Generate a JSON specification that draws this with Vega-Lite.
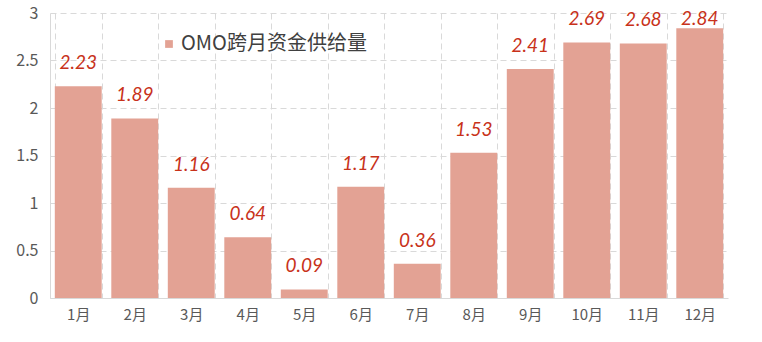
{
  "$schema": "https://vega.github.io/schema/vega-lite/v6.json",
  "autosize": {"type": "none"},
  "width": 678,
  "height": 285,
  "padding": {"left": 50, "top": 13, "right": 34, "bottom": 44},
  "background": "white",
  "data": {"values": [
    {"month": "1月", "value": 2.23, "series": "OMO跨月资金供给量"},
    {"month": "2月", "value": 1.89, "series": "OMO跨月资金供给量"},
    {"month": "3月", "value": 1.16, "series": "OMO跨月资金供给量"},
    {"month": "4月", "value": 0.64, "series": "OMO跨月资金供给量"},
    {"month": "5月", "value": 0.09, "series": "OMO跨月资金供给量"},
    {"month": "6月", "value": 1.17, "series": "OMO跨月资金供给量"},
    {"month": "7月", "value": 0.36, "series": "OMO跨月资金供给量"},
    {"month": "8月", "value": 1.53, "series": "OMO跨月资金供给量"},
    {"month": "9月", "value": 2.41, "series": "OMO跨月资金供给量"},
    {"month": "10月", "value": 2.69, "series": "OMO跨月资金供给量"},
    {"month": "11月", "value": 2.68, "series": "OMO跨月资金供给量"},
    {"month": "12月", "value": 2.84, "series": "OMO跨月资金供给量"}
  ]},
  "encoding": {
    "x": {
      "field": "month", "type": "nominal", "sort": null,
      "scale": {"paddingInner": 0.17, "paddingOuter": 0.085},
      "axis": {
        "title": null, "labelAngle": 0, "grid": true, "tickBand": "extent",
        "gridColor": "#D9D9D9", "gridDash": [6, 4], "ticks": false,
        "domainColor": "#D9D9D9", "labelFont": "Noto Sans CJK SC",
        "labelFontSize": 15, "labelColor": "#595959", "labelPadding": 9
      }
    }
  },
  "layer": [
    {
      "mark": {"type": "bar", "color": "#E3A294"},
      "encoding": {
        "y": {
          "field": "value", "type": "quantitative",
          "scale": {"domain": [0, 3], "nice": false},
          "axis": {
            "title": null, "values": [0, 0.5, 1, 1.5, 2, 2.5, 3], "format": "~g",
            "gridColor": "#D9D9D9", "gridDash": [6, 4], "ticks": false,
            "domain": true, "domainColor": "#D9D9D9",
            "labelFont": "Noto Sans CJK SC", "labelFontSize": 16,
            "labelColor": "#595959", "labelPadding": 12
          }
        },
        "color": {
          "field": "series", "type": "nominal",
          "scale": {"range": ["#E3A294"]},
          "legend": {
            "title": null, "orient": "none", "legendX": 109, "legendY": 21,
            "symbolType": "square", "symbolSize": 60, "labelFont": "Noto Sans CJK SC",
            "labelFontSize": 20, "labelColor": "#404040", "labelOffset": 2, "labelLimit": 400
          }
        }
      }
    },
    {
      "transform": [{"calculate": "min(datum.value, 2.69)", "as": "labelPos"}],
      "mark": {"type": "text", "dy": -23, "baseline": "middle", "font": "Lato", "fontStyle": "italic", "fontSize": 19, "color": "#C8321A"},
      "encoding": {
        "y": {"field": "labelPos", "type": "quantitative"},
        "text": {"field": "value", "type": "quantitative", "format": ".2f"}
      }
    }
  ],
  "config": {"view": {"stroke": null}}
}
